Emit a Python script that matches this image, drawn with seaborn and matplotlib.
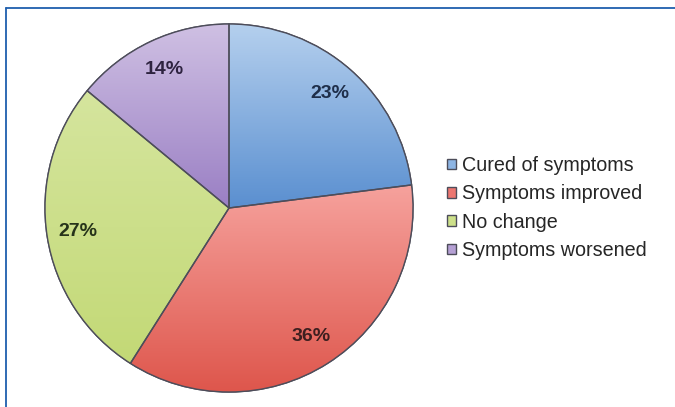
import numpy as np
import matplotlib
matplotlib.use("Agg")
import matplotlib.pyplot as plt
import seaborn as sns
from matplotlib.colors import LinearSegmentedColormap
from matplotlib.patches import PathPatch
from matplotlib.lines import Line2D

# Data
categories = ["Cured of symptoms", "Symptoms improved", "No change", "Symptoms worsened"]
shares = [23, 36, 27, 14]

# Colours (top / bottom of each wedge gradient, label colour)
base_colors = ["#8db5e4", "#ec7670", "#cde08a", "#b5a0d4"]
top_colors = ["#b5d0ee", "#f6a29d", "#d5e59e", "#cfc0e3"]
bottom_colors = ["#5a8fd0", "#de564c", "#c3d976", "#9a7fc4"]
label_colors = ["#1f2f4a", "#3d1f1f", "#26331a", "#2e2340"]

sns.set_theme(style="white")
plt.rcParams["font.family"] = ["Liberation Sans", "DejaVu Sans"]

fig = plt.figure(figsize=(6.75, 4.07), dpi=100)
lim = 1.03
r_px = 184
cx, cy = 229, 208
half = r_px * lim
ax = fig.add_axes([(cx - half) / 675, (407 - cy - half) / 407, 2 * half / 675, 2 * half / 407])

wedges, texts, autotexts = ax.pie(
    shares, colors=base_colors, startangle=90, counterclock=False,
    autopct="%d%%", pctdistance=0.83,
    wedgeprops=dict(edgecolor="#4d4d5a", linewidth=1.0),
    textprops=dict(fontsize=14, fontweight="bold"),
)

# vertical gradient inside each wedge
grad = np.linspace(0, 1, 256).reshape(-1, 1)
for w, top, bot in zip(wedges, top_colors, bottom_colors):
    bb = w.get_path().get_extents()
    cmap = LinearSegmentedColormap.from_list("g", [bot, top])
    im = ax.imshow(grad, extent=[bb.x0, bb.x1, bb.y0, bb.y1], origin="lower",
                   cmap=cmap, aspect="auto", zorder=1.5, interpolation="bilinear")
    im.set_clip_path(w)
    ax.add_patch(PathPatch(w.get_path(), facecolor="none", edgecolor="#4d4d5a",
                           linewidth=1.0, zorder=2))

for t, c in zip(autotexts, label_colors):
    t.set_color(c)
    t.set_zorder(3)

ax.set_aspect("equal")
ax.set_xlim(-lim, lim)
ax.set_ylim(-lim, lim)
ax.axis("off")

fig.legend(wedges, categories, loc="center left", bbox_to_anchor=(447 / 675, 1 - 208 / 407),
           frameon=False, fontsize=14.2, handlelength=0.46, handleheight=0.46,
           handletextpad=0.3, labelspacing=0.47, borderpad=0, borderaxespad=0)

# blue frame along top and left
fig.add_artist(Line2D([6 / 675, 1], [1 - 7.5 / 407, 1 - 7.5 / 407], color="#1f5fae", lw=1.3))
fig.add_artist(Line2D([6 / 675, 6 / 675], [0, 1 - 7.5 / 407], color="#1f5fae", lw=1.3))

fig.savefig("out.png", dpi=100)
